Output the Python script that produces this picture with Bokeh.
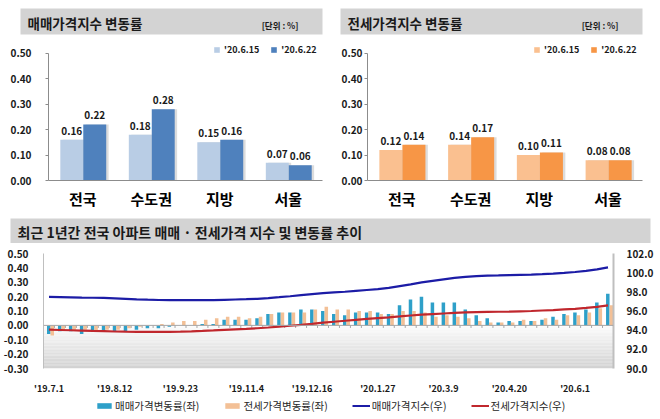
from bokeh.plotting import figure
from bokeh.layouts import column, row
from bokeh.models import (ColumnDataSource, FactorRange, Range1d, LinearAxis, FixedTicker,
                          NumeralTickFormatter, Legend, LegendItem, Span, BoxAnnotation)
from bokeh.transform import dodge
from bokeh.core.properties import value
from bokeh.embed import file_html
from bokeh.resources import INLINE

FONT = "Noto Sans CJK KR"

# ---------------- data ----------------
regions = ["전국", "수도권", "지방", "서울"]
date_a = "'20.6.15"
date_b = "'20.6.22"
sale_0615 = [0.16, 0.18, 0.15, 0.07]
sale_0622 = [0.22, 0.28, 0.16, 0.06]
jeonse_0615 = [0.12, 0.14, 0.10, 0.08]
jeonse_0622 = [0.14, 0.17, 0.11, 0.08]

week_tick_index = [0, 6, 12, 18, 24, 30, 36, 42, 48]
week_tick_labels = ["'19.7.1", "'19.8.12", "'19.9.23", "'19.11.4", "'19.12.16",
                    "'20.1.27", "'20.3.9", "'20.4.20", "'20.6.1"]

sale_rate = [-0.06, -0.04, -0.04, -0.06, -0.04, -0.04, -0.04, -0.04, -0.03, -0.02,
             -0.02, -0.01, 0.00, 0.00, 0.01, 0.01, 0.04, 0.04, 0.04, 0.05,
             0.08, 0.09, 0.09, 0.11, 0.11, 0.10, 0.08, 0.07, 0.09, 0.09,
             0.09, 0.08, 0.14, 0.18, 0.20, 0.16, 0.16, 0.16, 0.11, 0.07,
             0.05, 0.02, 0.03, 0.03, 0.03, 0.04, 0.06, 0.08, 0.09, 0.11,
             0.16, 0.22]
jeonse_rate = [-0.07, -0.03, -0.03, -0.03, -0.04, -0.03, -0.03, -0.02, -0.01, 0.00,
               0.01, 0.02, 0.03, 0.03, 0.04, 0.05, 0.06, 0.06, 0.05, 0.06,
               0.08, 0.09, 0.09, 0.09, 0.11, 0.13, 0.11, 0.11, 0.10, 0.10,
               0.08, 0.08, 0.10, 0.10, 0.09, 0.06, 0.07, 0.06, 0.05, 0.03,
               0.02, 0.02, 0.02, 0.04, 0.03, 0.05, 0.04, 0.07, 0.07, 0.09,
               0.12, 0.14]
sale_index = [97.47, 97.45, 97.43, 97.40, 97.38, 97.36, 97.32, 97.27, 97.22, 97.18,
              97.15, 97.14, 97.13, 97.13, 97.13, 97.14, 97.17, 97.20, 97.23, 97.27,
              97.35, 97.44, 97.54, 97.65, 97.76, 97.86, 97.94, 98.01, 98.10, 98.19,
              98.28, 98.42, 98.60, 98.78, 98.98, 99.14, 99.30, 99.46, 99.57, 99.64,
              99.69, 99.71, 99.74, 99.77, 99.80, 99.84, 99.90, 99.98, 100.07, 100.18,
              100.34, 100.56]
jeonse_index = [94.05, 94.02, 93.99, 93.96, 93.92, 93.89, 93.86, 93.84, 93.83, 93.82,
                93.82, 93.83, 93.85, 93.88, 93.92, 93.97, 94.03, 94.09, 94.14, 94.20,
                94.28, 94.37, 94.46, 94.55, 94.65, 94.78, 94.88, 94.98, 95.08, 95.17,
                95.26, 95.34, 95.43, 95.53, 95.62, 95.68, 95.74, 95.80, 95.85, 95.88,
                95.90, 95.92, 95.94, 95.97, 96.00, 96.05, 96.09, 96.16, 96.23, 96.32,
                96.44, 96.58]

HEADER_GRAY = "#d3d3d3"
AXIS_GRAY = "#8c8c8c"
TXT = "#1a1a1a"
SALE_BAR = "#2ea0c9"
JEONSE_BAR = "#f3c096"
SALE_LINE = "#1c1ca6"
JEONSE_LINE = "#c0272d"


def base_fig(**kw):
    p = figure(toolbar_location=None, output_backend="svg", title=None, **kw)
    p.frame_align = False
    p.border_fill_color = "white"
    p.outline_line_color = None
    return p


def header(title, width, height, bl, br, bt, bb, unit=None, fsize="13.5px"):
    h = base_fig(width=width, height=height, x_range=Range1d(0, 1), y_range=Range1d(0, 1),
                 x_axis_type=None, y_axis_type=None,
                 min_border_left=bl, min_border_right=br, min_border_top=bt, min_border_bottom=bb)
    h.background_fill_color = HEADER_GRAY
    h.text(x=[0], y=[0.45], text=[title], x_offset=7, text_baseline="middle",
           text_align="left", text_font=value(FONT), text_font_style="bold",
           text_font_size=fsize, text_color=TXT)
    if unit:
        h.text(x=[1], y=[0.36], text=[unit], x_offset=-24, text_baseline="middle",
               text_align="right", text_font=value(FONT), text_font_style="bold",
               text_font_size="8.5px", text_color=TXT)
    return h


def bar_panel(width, bl, br, vals_a, vals_b, col_a, col_b, y_stand, leg_x):
    src = ColumnDataSource(dict(region=regions, a=vals_a, b=vals_b,
                                la=[f"{v:.2f}" for v in vals_a],
                                lb=[f"{v:.2f}" for v in vals_b]))
    p = base_fig(width=width, height=174, x_range=FactorRange(*regions),
                 y_range=Range1d(0, 0.542), min_border_left=bl, min_border_right=br,
                 min_border_top=0, min_border_bottom=36)
    p.xgrid.visible = False
    p.ygrid.visible = False
    # soft shadows
    for off, fld in [(-0.16, "a"), (0.175, "b")]:
        p.vbar(x=dodge("region", off + 0.035, range=p.x_range), top=fld, width=0.335,
               source=src, fill_color="#9a9a9a", fill_alpha=0.35, line_color=None)
    ra = p.vbar(x=dodge("region", -0.16, range=p.x_range), top="a", width=0.335,
                source=src, fill_color=col_a, line_color=None)
    rb = p.vbar(x=dodge("region", 0.175, range=p.x_range), top="b", width=0.335,
                source=src, fill_color=col_b, line_color=None)
    for off, fld, lab in [(-0.16, "a", "la"), (0.175, "b", "lb")]:
        p.text(x=dodge("region", off, range=p.x_range), y=fld, text=lab, source=src,
               y_offset=-5, text_align="center", text_baseline="bottom",
               text_font=value(FONT), text_font_style="bold", text_font_size="10px",
               text_color=TXT)
    p.yaxis.ticker = FixedTicker(ticks=[0, 0.1, 0.2, 0.3, 0.4, 0.5])
    p.yaxis.formatter = NumeralTickFormatter(format="0.00")
    p.yaxis.bounds = (0, 0.5)
    p.yaxis.minor_tick_line_color = None
    p.yaxis.major_tick_out = 3
    p.yaxis.major_tick_in = 0
    p.yaxis.major_label_standoff = y_stand
    p.axis.axis_line_color = AXIS_GRAY
    p.axis.major_tick_line_color = AXIS_GRAY
    p.yaxis.major_label_text_font = FONT
    p.yaxis.major_label_text_font_style = "bold"
    p.yaxis.major_label_text_font_size = "10px"
    p.yaxis.major_label_text_color = TXT
    p.xaxis.major_tick_line_color = None
    p.xaxis.major_label_standoff = 1
    p.xaxis.major_label_text_font = FONT
    p.xaxis.major_label_text_font_style = "bold"
    p.xaxis.major_label_text_font_size = "15px"
    p.xaxis.major_label_text_color = "black"
    leg = Legend(items=[LegendItem(label=date_a, renderers=[ra]),
                        LegendItem(label=date_b, renderers=[rb])],
                 orientation="horizontal", location=(leg_x, 124),
                 glyph_width=7, glyph_height=7, label_standoff=4, spacing=11,
                 padding=0, margin=0, border_line_color=None, background_fill_alpha=0,
                 label_text_font=FONT, label_text_font_style="bold",
                 label_text_font_size="9px", label_height=12, label_text_color=TXT)
    p.add_layout(leg)
    return p


# ---------------- top panels ----------------
h_tl = header("매매가격지수 변동률", 330, 42, 20, 8, 8, 8, unit="[단위 : %]")
p_tl = bar_panel(330, 48, 8, sale_0615, sale_0622, "#b9cde5", "#4f81bd", 14, 165)
h_tr = header("전세가격지수 변동률", 330, 42, 10, 18, 8, 8, unit="[단위 : %]")
p_tr = bar_panel(330, 37, 18, jeonse_0615, jeonse_0622, "#fac090", "#f79646", 2, 166)

# ---------------- bottom panel ----------------
h_b = header("최근 1년간 전국 아파트 매매 · 전세가격 지수 및 변동률 추이", 660, 27, 10, 10, 2, 0,
             fsize="14px")

xs = list(range(len(sale_rate)))
bsrc = ColumnDataSource(dict(x=xs, sr=sale_rate, jr=jeonse_rate, si=sale_index, ji=jeonse_index,
                             xb=[x + 0.5 for x in xs]))
p_b = base_fig(width=660, height=154, x_range=Range1d(-0.5, len(xs) - 0.5),
               y_range=Range1d(-0.30, 0.50), min_border_left=42, min_border_right=47,
               min_border_top=10, min_border_bottom=24)
p_b.extra_y_ranges = {"idx": Range1d(90, 102)}
p_b.xgrid.visible = False
p_b.ygrid.visible = False

# gradient below zero (decoration)
nb = 30
for k in range(nb):
    t = k / (nb - 1)
    c = int(252 - (252 - 210) * t)
    p_b.add_layout(BoxAnnotation(top=-0.30 * k / nb, bottom=-0.30 * (k + 1) / nb,
                                 fill_color=f"#{c:02x}{c:02x}{c:02x}", fill_alpha=1,
                                 line_color=None, level="underlay"))

p_b.vbar(x=dodge("x", -0.02), top="sr", bottom=0, width=0.32, source=bsrc,
         fill_color=SALE_BAR, line_color=None)
p_b.vbar(x=dodge("x", 0.30), top="jr", bottom=0, width=0.32, source=bsrc,
         fill_color=JEONSE_BAR, line_color=None)
p_b.add_layout(Span(location=0, dimension="width", line_color="#a6a6a6", line_width=1))
p_b.segment(x0="xb", y0=0, x1="xb", y1=-0.018, source=bsrc, line_color="#a6a6a6", line_width=1)
p_b.line(x="x", y="si", source=bsrc, y_range_name="idx", line_color=SALE_LINE, line_width=2.2)
p_b.line(x="x", y="ji", source=bsrc, y_range_name="idx", line_color=JEONSE_LINE, line_width=2.2)

p_b.yaxis.ticker = FixedTicker(ticks=[-0.3, -0.2, -0.1, 0, 0.1, 0.2, 0.3, 0.4, 0.5])
p_b.yaxis.formatter = NumeralTickFormatter(format="0.00")
p_b.yaxis.major_label_standoff = 9
ax_r = LinearAxis(y_range_name="idx", ticker=FixedTicker(ticks=[90, 92, 94, 96, 98, 100, 102]),
                  formatter=NumeralTickFormatter(format="0.0"))
p_b.add_layout(ax_r, "right")
ax_r.major_label_standoff = 7
ax_r.axis_line_width = 2
for ax in (p_b.yaxis[0], ax_r):
    ax.major_tick_line_color = None
    ax.minor_tick_line_color = None
    ax.axis_line_color = "#bfbfbf"
    ax.major_label_text_font = FONT
    ax.major_label_text_font_style = "bold"
    ax.major_label_text_font_size = "10px"
    ax.major_label_text_color = TXT
p_b.xaxis.ticker = FixedTicker(ticks=week_tick_index)
p_b.xaxis.major_label_overrides = {i: s for i, s in zip(week_tick_index, week_tick_labels)}
p_b.xaxis.axis_line_color = None
p_b.xaxis.major_tick_line_color = None
p_b.xaxis.minor_tick_line_color = None
p_b.xaxis.major_label_standoff = 7
p_b.xaxis.major_label_text_font = FONT
p_b.xaxis.major_label_text_font_style = "bold"
p_b.xaxis.major_label_text_font_size = "9px"
p_b.xaxis.major_label_text_color = TXT

# legend strip: sample glyphs kept outside the strip's visible range
p_l = base_fig(width=660, height=22, x_range=Range1d(0, 1), y_range=Range1d(0, 1),
               x_axis_type=None, y_axis_type=None, min_border_left=42, min_border_right=0,
               min_border_top=0, min_border_bottom=0)
p_l.background_fill_color = "white"
g1 = p_l.vbar(x=[5], top=[5], bottom=[4], width=0.1, fill_color=SALE_BAR, line_color=None)
g2 = p_l.vbar(x=[5], top=[5], bottom=[4], width=0.1, fill_color=JEONSE_BAR, line_color=None)
g3 = p_l.line(x=[5, 6], y=[5, 5], line_color=SALE_LINE, line_width=2)
g4 = p_l.line(x=[5, 6], y=[5, 5], line_color=JEONSE_LINE, line_width=2)
leg_b = Legend(items=[LegendItem(label="매매가격변동률(좌)", renderers=[g1]),
                      LegendItem(label="전세가격변동률(좌)", renderers=[g2]),
                      LegendItem(label="매매가격지수(우)", renderers=[g3]),
                      LegendItem(label="전세가격지수(우)", renderers=[g4])],
               orientation="horizontal", location=(53, 6),
               glyph_width=18, glyph_height=7, label_standoff=2, spacing=24,
               padding=0, margin=0, border_line_color=None, background_fill_alpha=0,
               label_text_font=FONT, label_text_font_size="10.5px", label_height=12,
               label_text_color="#262626")
p_l.add_layout(leg_b)

layout = column(row(column(h_tl, p_tl), column(h_tr, p_tr)), h_b, p_b, p_l)
open("out.html", "w").write(file_html(layout, INLINE))
